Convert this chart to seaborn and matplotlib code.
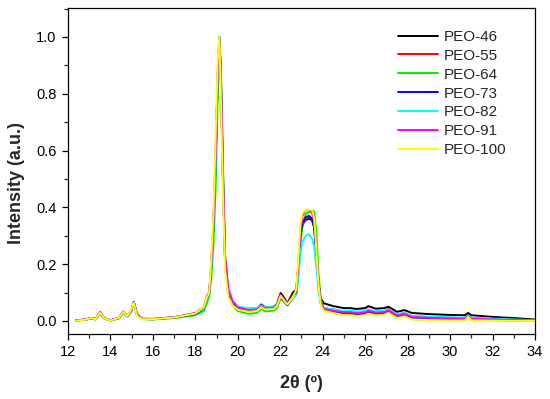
import seaborn as sns
from matplotlib import pyplot as plt
from matplotlib.ticker import MultipleLocator
import pandas as pd

# 2theta grid (deg) shared by all patterns
two_theta = [12.4, 12.8, 13.1, 13.3, 13.52, 13.7, 14.0, 14.4, 14.6, 14.8, 15.0, 15.1, 15.25, 15.5, 16.0, 17.0, 18.0,
             18.4, 18.55, 18.65, 18.75, 18.85, 18.95, 19.05, 19.13, 19.2, 19.3, 19.4, 19.55, 19.75, 20.0,
             20.5, 20.9, 21.1, 21.3, 21.7, 21.85, 22.02, 22.15, 22.34, 22.6, 22.75, 22.85, 22.95, 23.05, 23.2,
             23.35, 23.5, 23.6, 23.7, 23.8, 23.9, 24.05,
             24.5, 25.0, 25.3, 25.6, 26.0, 26.15, 26.5, 26.9, 27.1, 27.5, 27.85, 28.2, 29.0, 30.0, 30.7, 30.85,
             31.0, 32.0, 33.0, 34.0]

peo_46 = [0.003, 0.004, 0.010, 0.006, 0.028, 0.010, 0.002, 0.010, 0.030, 0.016, 0.040, 0.066, 0.022, 0.007, 0.006, 0.012, 0.025,
          0.045, 0.080, 0.095, 0.19, 0.33, 0.55, 0.85, 1.00, 0.86, 0.50, 0.21, 0.10, 0.065, 0.045,
          0.038, 0.042, 0.058, 0.048, 0.050, 0.060, 0.098, 0.085, 0.062, 0.100, 0.11, 0.19, 0.30, 0.34, 0.355,
          0.36, 0.355, 0.33, 0.24, 0.14, 0.08, 0.062,
          0.052, 0.045, 0.045, 0.042, 0.045, 0.052, 0.043, 0.045, 0.050, 0.032, 0.038, 0.028, 0.024, 0.021, 0.020, 0.028,
          0.020, 0.014, 0.010, 0.005]
peo_55 = [0.002, 0.004, 0.010, 0.006, 0.029, 0.010, 0.002, 0.010, 0.031, 0.017, 0.040, 0.067, 0.022, 0.007, 0.007, 0.013, 0.026,
          0.045, 0.080, 0.095, 0.19, 0.33, 0.55, 0.85, 1.00, 0.86, 0.50, 0.21, 0.10, 0.065, 0.045,
          0.035, 0.038, 0.052, 0.043, 0.045, 0.055, 0.090, 0.078, 0.060, 0.090, 0.10, 0.19, 0.30, 0.34, 0.36,
          0.365, 0.36, 0.33, 0.23, 0.13, 0.065, 0.045,
          0.040, 0.033, 0.034, 0.030, 0.033, 0.040, 0.032, 0.035, 0.042, 0.022, 0.028, 0.016, 0.013, 0.011, 0.010, 0.020,
          0.010, 0.006, 0.004, 0.002]
peo_64 = [0.001, 0.003, 0.009, 0.005, 0.026, 0.008, 0.001, 0.009, 0.028, 0.015, 0.036, 0.068, 0.026, 0.006, 0.005, 0.010, 0.020,
          0.035, 0.065, 0.085, 0.15, 0.27, 0.46, 0.78, 1.00, 0.90, 0.56, 0.24, 0.10, 0.055, 0.035,
          0.025, 0.028, 0.042, 0.034, 0.036, 0.045, 0.080, 0.070, 0.055, 0.085, 0.095, 0.16, 0.27, 0.34, 0.375,
          0.385, 0.39, 0.385, 0.31, 0.17, 0.08, 0.040,
          0.028, 0.020, 0.022, 0.018, 0.022, 0.028, 0.020, 0.024, 0.030, 0.010, 0.018, 0.006, 0.004, 0.003, 0.003, 0.015,
          0.003, 0.002, 0.001, 0.000]
peo_73 = [0.002, 0.004, 0.010, 0.006, 0.028, 0.010, 0.002, 0.010, 0.030, 0.016, 0.039, 0.066, 0.022, 0.007, 0.006, 0.012, 0.024,
          0.045, 0.080, 0.095, 0.19, 0.33, 0.55, 0.85, 1.00, 0.86, 0.50, 0.21, 0.10, 0.065, 0.045,
          0.035, 0.038, 0.050, 0.042, 0.044, 0.052, 0.085, 0.072, 0.055, 0.080, 0.095, 0.18, 0.30, 0.345, 0.365,
          0.37, 0.36, 0.33, 0.23, 0.13, 0.065, 0.045,
          0.033, 0.026, 0.028, 0.024, 0.026, 0.032, 0.026, 0.028, 0.035, 0.016, 0.022, 0.011, 0.008, 0.006, 0.006, 0.016,
          0.006, 0.004, 0.002, 0.001]
peo_82 = [0.002, 0.004, 0.010, 0.006, 0.028, 0.010, 0.002, 0.010, 0.030, 0.016, 0.040, 0.065, 0.022, 0.007, 0.007, 0.013, 0.027,
          0.045, 0.080, 0.095, 0.19, 0.33, 0.55, 0.85, 1.00, 0.87, 0.52, 0.22, 0.11, 0.070, 0.050,
          0.045, 0.046, 0.055, 0.048, 0.050, 0.058, 0.088, 0.075, 0.058, 0.080, 0.090, 0.15, 0.24, 0.28, 0.30,
          0.305, 0.29, 0.26, 0.19, 0.11, 0.06, 0.045,
          0.040, 0.035, 0.036, 0.033, 0.035, 0.040, 0.034, 0.036, 0.040, 0.024, 0.028, 0.018, 0.015, 0.013, 0.012, 0.020,
          0.012, 0.008, 0.005, 0.003]
peo_91 = [0.002, 0.005, 0.011, 0.007, 0.033, 0.011, 0.002, 0.012, 0.034, 0.018, 0.042, 0.066, 0.021, 0.008, 0.007, 0.013, 0.028,
          0.050, 0.090, 0.100, 0.20, 0.35, 0.58, 0.87, 0.99, 0.88, 0.53, 0.23, 0.115, 0.070, 0.048,
          0.038, 0.040, 0.052, 0.044, 0.046, 0.055, 0.092, 0.078, 0.060, 0.088, 0.10, 0.20, 0.32, 0.37, 0.39,
          0.39, 0.38, 0.35, 0.25, 0.14, 0.07, 0.042,
          0.036, 0.030, 0.030, 0.027, 0.030, 0.036, 0.029, 0.031, 0.037, 0.019, 0.025, 0.014, 0.011, 0.009, 0.008, 0.018,
          0.008, 0.005, 0.003, 0.002]
peo_100 = [0.001, 0.004, 0.010, 0.006, 0.030, 0.010, 0.001, 0.011, 0.032, 0.017, 0.044, 0.064, 0.018, 0.006, 0.006, 0.012, 0.026,
           0.050, 0.085, 0.100, 0.22, 0.38, 0.63, 0.92, 1.00, 0.80, 0.44, 0.18, 0.085, 0.055, 0.040,
           0.032, 0.035, 0.048, 0.040, 0.042, 0.052, 0.088, 0.075, 0.058, 0.085, 0.11, 0.22, 0.34, 0.38, 0.39,
           0.392, 0.39, 0.36, 0.25, 0.13, 0.06, 0.035,
           0.028, 0.020, 0.020, 0.017, 0.020, 0.026, 0.019, 0.022, 0.028, 0.010, 0.016, 0.005, 0.003, 0.002, 0.002, 0.014,
           0.002, 0.001, 0.000, 0.000]

names = ["PEO-46", "PEO-55", "PEO-64", "PEO-73", "PEO-82", "PEO-91", "PEO-100"]
colors = ["#000000", "#ff0000", "#00ee00", "#0000ff", "#00ffff", "#ff00ff", "#ffff00"]
series = [peo_46, peo_55, peo_64, peo_73, peo_82, peo_91, peo_100]

rows = []
for name, ys in zip(names, series):
    for x, y in zip(two_theta, ys):
        rows.append({"2theta": x, "I": y, "sample": name})
df = pd.DataFrame(rows)

sns.set_style("ticks")
plt.rcParams["font.family"] = ["Liberation Sans", "DejaVu Sans"]

fig, ax = plt.subplots(figsize=(5.5, 3.99), dpi=100)
fig.subplots_adjust(left=0.1236, right=0.9727, top=0.98, bottom=0.163)

sns.lineplot(data=df, x="2theta", y="I", hue="sample", hue_order=names,
             palette=dict(zip(names, colors)), sort=False, lw=1.4, ax=ax)

ax.set_xlim(12, 34)
ax.set_ylim(-0.046, 1.102)
ax.xaxis.set_major_locator(MultipleLocator(2))
ax.xaxis.set_minor_locator(MultipleLocator(1))
ax.yaxis.set_major_locator(MultipleLocator(0.2))
ax.yaxis.set_minor_locator(MultipleLocator(0.1))
ax.yaxis.set_major_formatter(plt.FormatStrFormatter("%.1f"))
ax.tick_params(which="major", direction="out", length=4.3, width=0.9, labelsize=10.5, colors="black", pad=4)
ax.tick_params(which="minor", direction="out", length=3, width=0.9)
for sp in ax.spines.values():
    sp.set_visible(True)
    sp.set_linewidth(0.9)
    sp.set_color("black")

ax.set_xlabel("2θ (º)", fontsize=13, fontweight="bold")
ax.set_ylabel("Intensity (a.u.)", fontsize=13, fontweight="bold")
ax.xaxis.set_label_coords(0.5, -0.126)
ax.yaxis.set_label_coords(-0.092, 0.463)

ax.legend(frameon=False, loc="upper left", bbox_to_anchor=(0.7236, 0.925),
          bbox_transform=fig.transFigure, borderpad=0, borderaxespad=0,
          handlelength=2.6, handletextpad=0.4, labelspacing=0.32, fontsize=11)

fig.savefig("out.png", dpi=100)
